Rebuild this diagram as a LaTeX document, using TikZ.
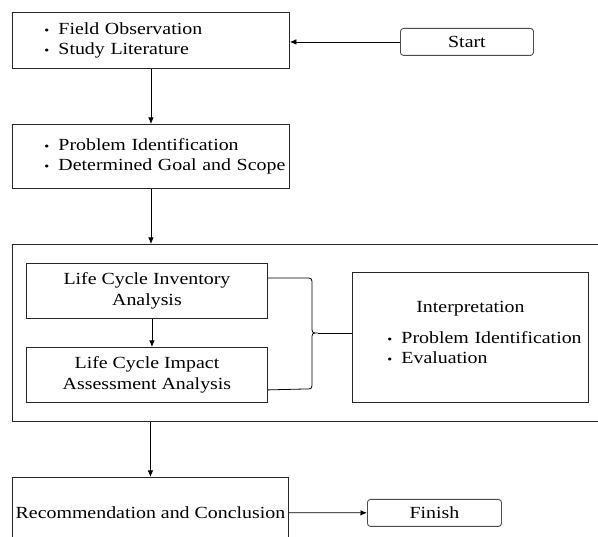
\documentclass[tikz,border=0pt]{standalone}
\usepackage{fontspec}
\setmainfont[FakeStretch=1.17]{Liberation Serif}
\usetikzlibrary{arrows.meta}
\tikzstyle{block} = [rectangle, draw=black!85, line width=0.9pt, inner sep=1pt,
    text centered, anchor=north west]
\tikzstyle{listblock} = [block, text width=275pt, align=left]
\tikzstyle{term} = [block, rounded corners=3pt, draw=black!70]
\tikzstyle{line} = [draw, line width=0.8pt, -{Latex[length=6.5pt,width=5.5pt]}]
\newcommand{\bul}[2][31pt]{\mbox{\hspace*{#1}\makebox[14pt][l]{\fontsize{12}{12}\selectfont\textbullet}#2}}

\begin{document}
\begin{tikzpicture}[x=1pt, y=-1pt, font=\fontsize{17}{20.5}\selectfont]
  \useasboundingbox (0,0) rectangle (598,537);
   % Place nodes
    \node [listblock, minimum height=56pt] (observe) at (12,12)
      {\bul{Field Observation}\\ \bul{Study Literature}};
    \node [term, minimum width=133pt, minimum height=27pt] (start) at (400,28) {Start};
    \node [listblock, minimum height=64pt] (identify) at (12,124)
      {\bul{Problem Identification}\\ \bul{Determined Goal and Scope}};
    \node [block, minimum width=600pt, minimum height=177pt] (lca) at (12,244) {};
    \node [block, minimum width=241pt, minimum height=55pt, align=center] (inventory) at (26,263)
      {Life Cycle Inventory\\ Analysis};
    \node [block, minimum width=241pt, minimum height=55pt, align=center] (impact) at (26,347)
      {Life Cycle Impact\\ Assessment Analysis};
    \node [block, minimum width=236pt, minimum height=130pt, text width=234pt, align=center] (interpret) at (352,272)
      {Interpretation\\[10.5pt]
       \makebox[234pt][l]{\bul[34pt]{Problem Identification}}\\
       \makebox[234pt][l]{\bul[34pt]{Evaluation}}\\[-10.5pt]\mbox{}};
    \node [block, minimum width=276pt, minimum height=70pt] (recommend) at (12,477)
      {Recommendation and Conclusion};
    \node [term, minimum width=134pt, minimum height=27pt] (finish) at (367,499) {Finish};
    \coordinate (tip) at (318,333);
   % Draw edges
    \path [line] (start.west) -- (start.west -| observe.east);
    \path [line] (observe) -- (identify);
    \path [line] (identify.south) -- (identify.south |- lca.north);
    \path [line] ([xshift=5pt]inventory.south) -- ([xshift=5pt]impact.north);
    \path [line] (lca.south -| recommend) -- (recommend);
    \path [line] (recommend) -- (finish);
   % Brace to interpretation
    \draw [line width=0.8pt] ([yshift=-15pt]inventory.north east)
      -- (305,278) .. controls (312,278) .. (312,285) -- (312,326)
      .. controls (312,333) .. (tip) .. controls (312,333) .. (312,340)
      -- (312,382) .. controls (312,389) .. (305,389) -- ([yshift=13pt]impact.south east);
    \draw [line width=0.8pt] (tip) -- (tip -| interpret.west);
\end{tikzpicture}
\end{document}
